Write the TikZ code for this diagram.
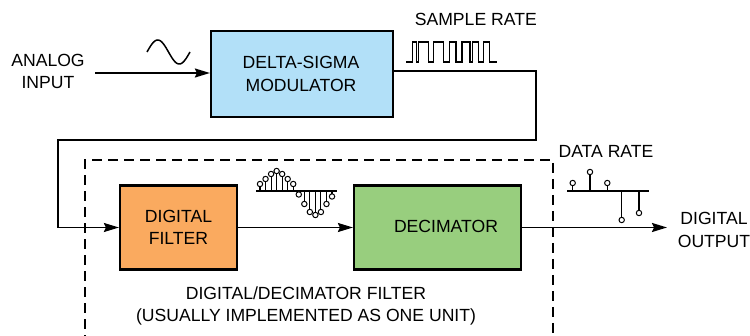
\documentclass[tikz,border=0pt]{standalone}
\usepackage{fontspec}
\setmainfont{Liberation Sans}
\usetikzlibrary{arrows.meta}
\definecolor{modblue}{RGB}{178,224,248}
\definecolor{filtorange}{RGB}{250,170,95}
\definecolor{decgreen}{RGB}{152,206,126}
\tikzset{
  lbl/.style={font=\fontsize{17.6}{22.5}\selectfont, align=center, inner sep=0pt},
  blockbox/.style={draw, line width=2.2pt, lbl},
  arr/.style={line width=1.8pt, -{Stealth[length=15pt,width=9pt,inset=2pt]}},
  unitbox/.style={line width=2.6pt, dash pattern=on 10pt off 6pt},
  axisline/.style={line width=1.1pt},
  stemline/.style={line width=1.1pt},
  sampledot/.style={line width=1pt, draw=black, fill=white},
  wave/.style={line width=1.5pt, line join=miter}
}
\begin{document}
\begin{tikzpicture}[x=1pt,y=-1pt]
\useasboundingbox (0,0) rectangle (750,336);

% blocks
\node[blockbox, fill=modblue, minimum width=182pt, minimum height=86pt] (mod) at (302,74) {};
\node[lbl] (modtxt) at (301,74) {DELTA-SIGMA\\MODULATOR};
\node[blockbox, fill=filtorange, minimum width=117pt, minimum height=84pt] (filter) at (178.5,227.5) {DIGITAL\\FILTER};
\node[blockbox, fill=decgreen, minimum width=167pt, minimum height=84pt] (dec) at (437.5,227.5) {};
\node[lbl] (dectxt) at (446,226.7) {DECIMATOR};

% labels
\node[lbl] (ain) at (48,71.5) {ANALOG\\INPUT};
\node[lbl] (srate) at (475.8,19.7) {SAMPLE RATE};
\node[lbl] (drate) at (606,151.7) {DATA RATE};
\node[lbl] (dout) at (714,230) {DIGITAL\\OUTPUT};
\node[lbl] (unit) at (306,305.8) {DIGITAL/DECIMATOR FILTER\\(USUALLY IMPLEMENTED AS ONE UNIT)};

% dashed unit box
\coordinate (ub1) at (85,345);
\coordinate (ub2) at (85,160);
\coordinate (ub3) at (553,160);
\coordinate (ub4) at (553,345);
\draw[unitbox] (ub1) -- (ub2) -- (ub3) -- (ub4);

% connectors
\coordinate (instart) at (95,73);
\draw[arr] (instart) -- (mod.west |- instart);
\coordinate (m1) at (536,71);
\coordinate (m2) at (58,140);
\draw[arr] (mod.east |- m1) -- (m1) |- (m2) |- (filter.west);
\draw[arr] (filter.east) -- (dec.west);
\coordinate (outend) at (667,227.5);
\draw[arr] (dec.east) -- (outend);

% analog sine
\draw[wave] plot[domain=0:360, samples=60, smooth] ({147+43*\x/360},{52-12*sin(\x)});

% sample-rate bit stream
\draw[wave] (406,62) -- (412.7,62) -- (412.7,42) -- (416.5,42) -- (416.5,62) -- (418.5,62) -- (418.5,42)
  -- (428.3,42) -- (428.3,62) -- (433.3,62) -- (433.3,42) -- (443.3,42) -- (443.3,62) -- (449.3,62)
  -- (449.3,42) -- (456,42) -- (456,62) -- (462,62) -- (462,42) -- (470,42) -- (470,62) -- (472.7,62)
  -- (472.7,42) -- (478.3,42) -- (478.3,62) -- (483.3,62) -- (483.3,42) -- (489.3,42) -- (489.3,62)
  -- (497,62);

% sampled sine after digital filter
\draw[axisline] (256,191) -- (337,191);
\foreach \k/\yy in {0/184,1/179,2/174,3/171,4/174,5/179,6/184,7/194.5,8/204,9/212,10/215,11/212,12/204,13/196.5}{
  \draw[stemline] ({260+5.54*\k},191) -- ({260+5.54*\k},\yy);
}
\foreach \k/\yy in {0/184,1/179,2/174,3/171,4/174,5/179,6/184,7/194.5,8/204,9/212,10/215,11/212,12/204,13/196.5}{
  \draw[sampledot] ({260+5.54*\k},\yy) circle (2.7pt);
}

% data-rate samples
\draw[axisline] (567,191) -- (649,191);
\foreach \xx/\yy in {572.7/183,590/172,607.3/183,621.7/220,639/213}{
  \draw[stemline] (\xx,191) -- (\xx,\yy);
  \draw[sampledot] (\xx,\yy) circle (2.7pt);
}
\end{tikzpicture}
\end{document}
